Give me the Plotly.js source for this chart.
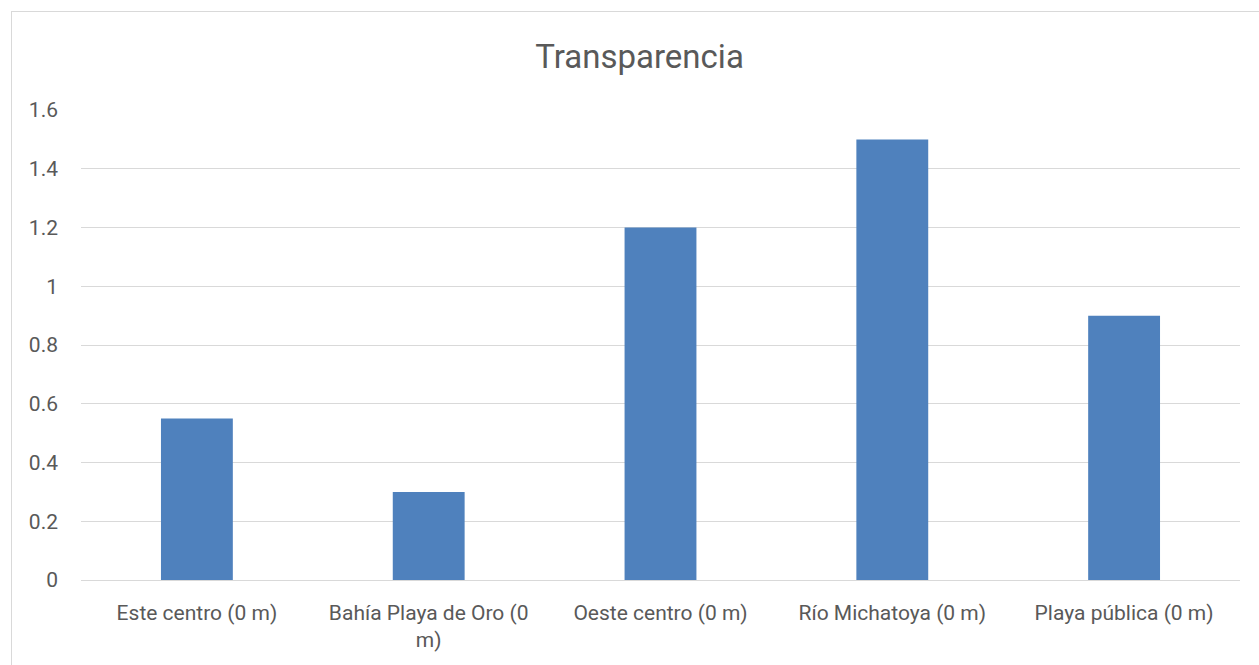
<!DOCTYPE html>
<html><head><meta charset="utf-8">
<script src="https://cdn.plot.ly/plotly-3.0.1.min.js"></script>
<style>
html,body{margin:0;padding:0;background:#fff;overflow:hidden;}
#frame{position:absolute;left:11px;top:11px;width:1400px;height:800px;border:1px solid #d9d9d9;box-sizing:border-box;}
#chart{position:absolute;left:0;top:0;width:1259px;height:665px;}
</style></head>
<body>
<div id="frame"></div>
<div id="chart"></div>
<script>
const categories = ["Este centro (0 m)", "Bahía Playa de Oro (0<br>m)", "Oeste centro (0 m)", "Río Michatoya (0 m)", "Playa pública (0 m)"];
const values = [0.55, 0.3, 1.2, 1.5, 0.9];
const yTicks = [0, 0.2, 0.4, 0.6, 0.8, 1, 1.2, 1.4, 1.6];
const yTickText = ["0", "0.2", "0.4", "0.6", "0.8", "1", "1.2", "1.4", "1.6"];
const chartTitle = "Transparencia";

const fontFam = "Roboto, Noto Sans, sans-serif";
Plotly.newPlot('chart', [{
  type: 'bar', x: categories, y: values,
  marker: {color: '#4f81bd'}, hoverinfo: 'none'
}], {
  width: 1259, height: 665,
  paper_bgcolor: 'rgba(0,0,0,0)', plot_bgcolor: 'rgba(0,0,0,0)',
  margin: {l: 81, r: 19, t: 110, b: 85},
  bargap: 0.69,
  showlegend: false,
  title: {text: chartTitle, x: 0.508, xref: 'container', xanchor: 'center', y: 1 - 56/665, yref: 'container', yanchor: 'middle',
          font: {family: fontFam, size: 33, color: '#595959'}},
  xaxis: {type: 'category', showgrid: false, zeroline: false, showline: false, ticks: '',
          tickfont: {family: fontFam, size: 21, color: '#595959'}, ticklabelstandoff: 18},
  yaxis: {range: [0, 1.6], tickvals: yTicks, ticktext: yTickText, showgrid: true, gridcolor: '#d9d9d9', gridwidth: 1,
          zeroline: true, zerolinecolor: '#d9d9d9', zerolinewidth: 1, showline: false, ticks: '',
          tickfont: {family: fontFam, size: 21, color: '#595959'}, ticklabelstandoff: 22}
}, {displayModeBar: false, staticPlot: true});
</script>
</body></html>
